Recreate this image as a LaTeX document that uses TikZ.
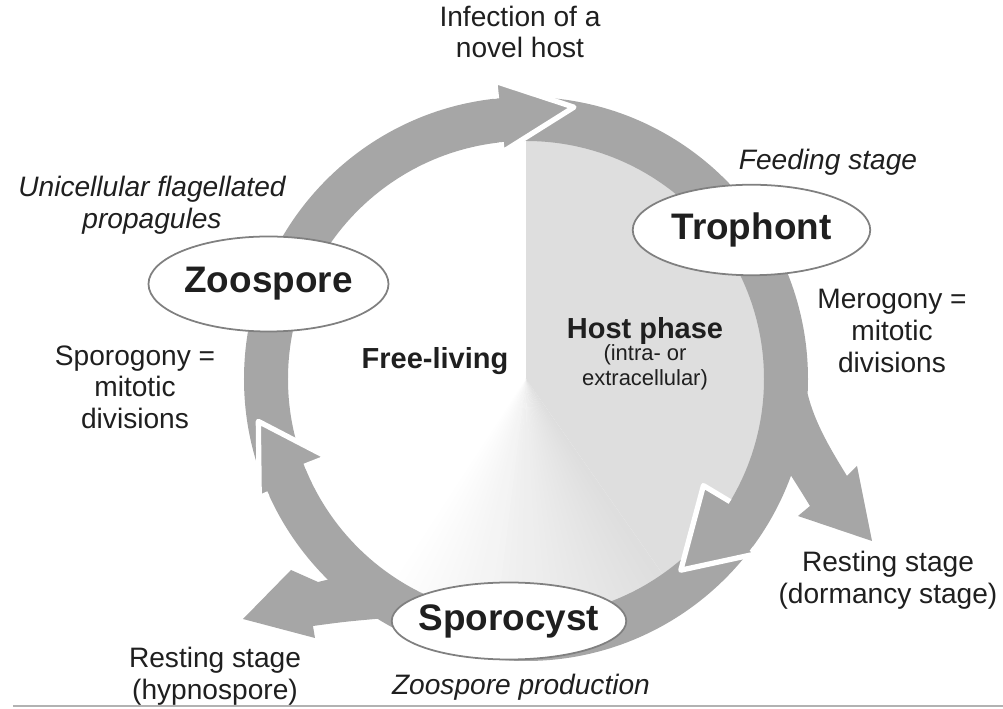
\documentclass[tikz,border=0pt]{standalone}
\usepackage{fontspec}
\setmainfont{Liberation Sans}
\usetikzlibrary{shapes.geometric,positioning}
\definecolor{ringgray}{gray}{0.65}
\definecolor{hostgray}{gray}{0.87}
\definecolor{textgray}{gray}{0.12}
\newcommand{\cyctext}{\fontsize{16}{18}\selectfont}
\newcommand{\cycstage}{\fontsize{21}{24}\selectfont\bfseries}
\newcommand{\cycsmall}{\fontsize{12.5}{14}\selectfont}

\begin{document}
\begin{tikzpicture}[
		stage/.style={ellipse, draw=black!50, fill=white, line width=1pt, inner sep=0pt},
		stagetext/.style={font=\cycstage, text=textgray},
		note/.style={align=center, font=\cyctext, text=textgray},
		phase/.style={align=center, font=\fontsize{16.5}{19}\selectfont\bfseries, text=textgray}
	]
	\useasboundingbox (-10.52,-6.60) rectangle (9.54,7.58);
	% Host phase sector
	\fill[hostgray] (0,0) -- (90:5) arc (90:-55:5) -- cycle;
	\foreach \i in {0,...,34} {
			\pgfmathsetmacro\ang{-55-2*\i}
			\pgfmathsetmacro\angend{\ang-2.4}
			\pgfmathtruncatemacro\pct{100-100*\i/34}
			\fill[hostgray!\pct!white] (0,0) -- (\ang:5) arc (\ang:\angend:5) -- cycle;
		}
	% Ring
	\fill[ringgray, even odd rule] (0,0) circle (5.64) (0,0) circle (4.76);
	% Branches to the resting stages
	\fill[ringgray] (-3:5.64) .. controls (5.78,-0.9) and (6.12,-1.45) .. (6.42,-1.94)
		-- (6.62,-1.74) -- (6.92,-3.24) -- (5.44,-2.74) -- (5.68,-2.54)
		.. controls (5.52,-2.28) .. (5.28,-1.90) -- (-15:5.0) -- cycle;
	\fill[ringgray] (-3.66,-3.94) -- (-4.16,-4.06) -- (-4.70,-3.82) -- (-5.66,-4.80)
		-- (-4.22,-5.18) -- (-4.26,-4.94) .. controls (-3.6,-4.85) .. (-2.45,-4.75)
		-- (-115:5.0) -- cycle;
	% Arrow heads
	\foreach \tip/\rt/\ao/\ro/\ai/\ri in {80/5.52/96/5.99/96/4.56, -51/4.92/-37/5.80/-31/4.14, 189/5.42/204/5.84/201.5/4.27} {
			\filldraw[fill=ringgray, draw=white, line width=3pt, line join=round]
			(\ao:5.64) -- (\ao:\ro) -- (\tip:\rt) -- (\ai:\ri) -- (\ai:4.76);
		}
	% Stages
	\node[stage, minimum width=4.8cm, minimum height=1.9cm, label={[stagetext]center:Zoospore}] (zoo) at (-5.15,1.90) {};
	\node[stage, minimum width=4.75cm, minimum height=1.81cm, label={[stagetext]center:Trophont}] (tro) at (4.51,2.98) {};
	\node[stage, minimum width=4.69cm, minimum height=1.54cm, label={[stagetext]center:Sporocyst}] (spo) at (-0.34,-4.84) {};
	% Labels
	\node[note] (infect) at (-0.12,6.94) {Infection of a\\novel host};
	\node[note, font=\cyctext\itshape] (feed) at (6.04,4.34) {Feeding stage};
	\node[note, font=\cyctext\itshape] (unic) at (-7.48,3.48) {Unicellular flagellated\\propagules};
	\node[note] (mero) at (7.32,0.96) {Merogony =\\mitotic\\divisions};
	\node[note] (sporo) at (-7.82,-0.16) {Sporogony =\\mitotic\\divisions};
	\node[phase] (free) at (-1.82,0.36) {Free-living};
	\node[phase] (host) at (2.38,0.96) {Host phase};
	\node[note, font=\cycsmall, below=-7pt of host] (intra) {(intra- or\\extracellular)};
	\node[note] (restr) at (7.24,-4.02) {Resting stage\\(dormancy stage)};
	\node[note] (restl) at (-6.22,-5.94) {Resting stage\\(hypnospore)};
	\node[note, font=\cyctext\itshape] (prod) at (-0.10,-6.16) {Zoospore production};
	% Base line
	\draw[black!30, line width=1.5pt] (-10.26,-6.54) -- (9.54,-6.54);
\end{tikzpicture}
\end{document}
